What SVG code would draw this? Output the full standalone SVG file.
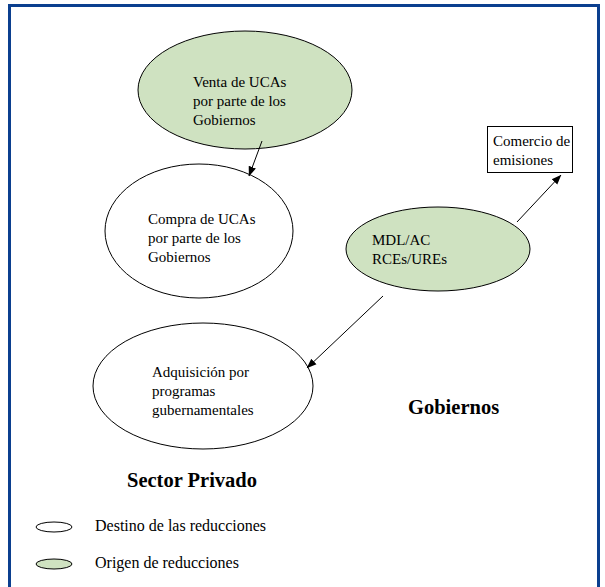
<svg xmlns="http://www.w3.org/2000/svg" width="605" height="587" viewBox="0 0 605 587">
  <style>
    .t { font-family: 'Liberation Serif', 'Times New Roman', serif; font-size: 15px; fill: #000; }
    .lg { font-family: 'Liberation Serif', 'Times New Roman', serif; font-size: 16px; fill: #000; }
    .h { font-family: 'Liberation Serif', 'Times New Roman', serif; font-size: 20.5px; font-weight: bold; fill: #000; }
    .origin { fill: #cfe2c1; stroke: #000; stroke-width: 1; }
    .dest { fill: #fff; stroke: #000; stroke-width: 1; }
    .edge { fill: none; stroke: #000; stroke-width: 1; marker-end: url(#arrow); }
  </style>
  <defs>
    <marker id="arrow" viewBox="0 0 10 10" refX="9.5" refY="5" markerWidth="10" markerHeight="10" markerUnits="userSpaceOnUse" orient="auto">
      <path d="M0,1.2 L10,5 L0,8.8 Z" fill="#000"/>
    </marker>
  </defs>

  <rect width="605" height="587" fill="#fff"/>
  <!-- outer frame -->
  <rect x="9.5" y="5.5" width="589" height="600" fill="none" stroke="#0b3f8f" stroke-width="3"/>

  <g id="venta">
    <ellipse class="origin" cx="245" cy="90" rx="107" ry="59"/>
    <text class="t"><tspan x="193" y="87">Venta de UCAs</tspan><tspan x="193" y="106">por parte de los</tspan><tspan x="193" y="125">Gobiernos</tspan></text>
  </g>

  <g id="compra">
    <ellipse class="dest" cx="199" cy="231" rx="94" ry="67"/>
    <text class="t"><tspan x="148" y="224">Compra de UCAs</tspan><tspan x="148" y="243">por parte de los</tspan><tspan x="148" y="262">Gobiernos</tspan></text>
  </g>

  <g id="mdl">
    <ellipse class="origin" cx="438" cy="249" rx="92" ry="42"/>
    <text class="t"><tspan x="372" y="245">MDL/AC</tspan><tspan x="372" y="264">RCEs/UREs</tspan></text>
  </g>

  <g id="comercio">
    <rect x="487.5" y="126.5" width="85" height="46" fill="#fff" stroke="#000" stroke-width="1"/>
    <text class="t"><tspan x="493" y="146">Comercio de</tspan><tspan x="493" y="165">emisiones</tspan></text>
  </g>

  <g id="adquisicion">
    <ellipse class="dest" cx="203" cy="386" rx="110" ry="63"/>
    <text class="t"><tspan x="152" y="377">Adquisición por</tspan><tspan x="152" y="396">programas</tspan><tspan x="152" y="415">gubernamentales</tspan></text>
  </g>

  <g id="connectors">
    <line class="edge" x1="262" y1="141" x2="249" y2="176"/>
    <line class="edge" x1="517" y1="222" x2="561" y2="175"/>
    <line class="edge" x1="383" y1="296" x2="307" y2="368"/>
  </g>

  <g id="labels">
    <text class="h" x="408" y="414">Gobiernos</text>
    <text class="h" x="127" y="487">Sector Privado</text>
  </g>

  <g id="legend">
    <ellipse class="dest" cx="54" cy="527" rx="18" ry="5"/>
    <text class="lg" x="95" y="531">Destino de las reducciones</text>
    <ellipse class="origin" cx="54" cy="564" rx="18" ry="5"/>
    <text class="lg" x="95" y="568">Origen de reducciones</text>
  </g>
</svg>
